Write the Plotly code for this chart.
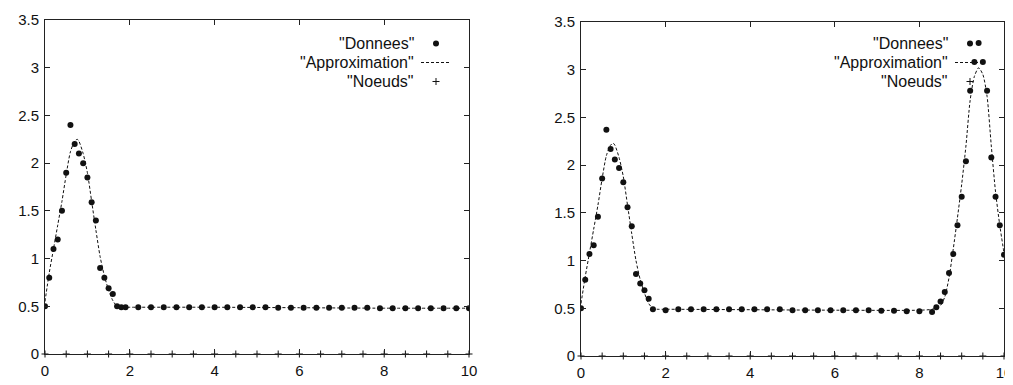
import plotly.graph_objects as go

# ---------------- data ----------------
# Left panel: "Donnees"
left_x = [0.0, 0.1, 0.2, 0.3, 0.4, 0.5, 0.6, 0.7, 0.8, 0.9, 1.0, 1.1, 1.2, 1.3, 1.4, 1.5, 1.6, 1.7, 1.8, 1.9,
          2.2, 2.5, 2.8, 3.1, 3.4, 3.7, 4.0, 4.3, 4.6, 4.9, 5.2, 5.5, 5.8, 6.1, 6.4, 6.7, 7.0, 7.3, 7.6, 7.9,
          8.2, 8.5, 8.8, 9.1, 9.4, 9.7, 10.0]
left_y = [0.50, 0.80, 1.10, 1.20, 1.50, 1.90, 2.40, 2.20, 2.10, 2.00, 1.85, 1.59, 1.40, 0.90, 0.80, 0.69, 0.63, 0.50, 0.49, 0.49,
          0.49, 0.49, 0.49, 0.49, 0.49, 0.49, 0.49, 0.49, 0.49, 0.49, 0.49, 0.485, 0.485, 0.485, 0.485, 0.485, 0.485, 0.485, 0.485, 0.48,
          0.48, 0.48, 0.48, 0.48, 0.48, 0.48, 0.48]
# Left panel: "Approximation"
left_ax = [0.0, 0.1, 0.2, 0.3, 0.4, 0.5, 0.6, 0.7, 0.76, 0.8, 0.9, 1.0, 1.1, 1.2, 1.3, 1.4, 1.5, 1.6, 1.7, 1.8,
           2.0, 4.0, 6.0, 8.0, 10.0]
left_ay = [0.55, 0.85, 1.10, 1.35, 1.60, 1.88, 2.12, 2.23, 2.25, 2.23, 2.10, 1.90, 1.60, 1.30, 1.02, 0.82, 0.67, 0.56, 0.50, 0.49,
           0.49, 0.49, 0.485, 0.48, 0.48]

# Right panel: "Donnees"
right_x = [0.0, 0.1, 0.2, 0.3, 0.4, 0.5, 0.6, 0.7, 0.8, 0.9, 1.0, 1.1, 1.2, 1.3, 1.4, 1.5, 1.6, 1.7,
           2.0, 2.3, 2.6, 2.9, 3.2, 3.5, 3.8, 4.1, 4.4, 4.7, 5.0, 5.3, 5.6, 5.9, 6.2, 6.5, 6.8, 7.1, 7.4, 7.7, 8.0,
           8.3, 8.4, 8.5, 8.6, 8.7, 8.8, 8.9, 9.0, 9.1, 9.2, 9.3, 9.4, 9.5, 9.6, 9.7, 9.8, 9.9, 10.0]
right_y = [0.50, 0.80, 1.07, 1.16, 1.46, 1.86, 2.37, 2.17, 2.06, 1.97, 1.82, 1.56, 1.36, 0.86, 0.76, 0.69, 0.60, 0.49,
           0.48, 0.49, 0.49, 0.49, 0.49, 0.49, 0.49, 0.49, 0.49, 0.49, 0.48, 0.48, 0.48, 0.48, 0.48, 0.48, 0.48, 0.475, 0.475, 0.47, 0.47,
           0.46, 0.51, 0.57, 0.67, 0.87, 1.07, 1.37, 1.67, 2.04, 2.78, 3.08, 3.28, 3.08, 2.78, 2.08, 1.67, 1.37, 1.06]
# Right panel: "Approximation"
right_ax = [0.0, 0.1, 0.2, 0.3, 0.4, 0.5, 0.6, 0.7, 0.76, 0.8, 0.9, 1.0, 1.1, 1.2, 1.3, 1.4, 1.5, 1.6, 1.7, 1.8,
            2.0, 4.0, 6.0, 8.0, 8.3, 8.5, 8.6, 8.7, 8.8, 8.9, 9.0, 9.1, 9.2, 9.3, 9.4, 9.5, 9.6, 9.7, 9.8, 9.9, 10.0]
right_ay = [0.55, 0.83, 1.08, 1.33, 1.58, 1.86, 2.10, 2.21, 2.23, 2.21, 2.08, 1.88, 1.58, 1.28, 1.00, 0.80, 0.66, 0.55, 0.50, 0.49,
            0.49, 0.485, 0.48, 0.48, 0.49, 0.53, 0.62, 0.82, 1.12, 1.45, 1.80, 2.20, 2.68, 2.93, 3.02, 2.95, 2.72, 2.20, 1.72, 1.37, 1.08]

# Knots ("Noeuds"), same for both panels
knots_x = [0.0, 0.5, 1.0, 1.5, 2.0, 2.5, 3.0, 3.5, 4.0, 4.5, 5.0, 5.5, 6.0, 6.5, 7.0, 7.5, 8.0, 8.5, 9.0, 9.5, 10.0]
knots_y = [0.0] * len(knots_x)

legend_labels = ['"Donnees"', '"Approximation"', '"Noeuds"']
x_ticks = [0, 2, 4, 6, 8, 10]
y_ticks = [0, 0.5, 1, 1.5, 2, 2.5, 3, 3.5]
y_tick_text = ["0", "0.5", "1", "1.5", "2", "2.5", "3", "3.5"]

# ---------------- figure ----------------
PAGE_W, PAGE_H = 1013, 385
OFF = 8                      # default body margin of the html page
W, H = PAGE_W - OFF, PAGE_H - OFF
FONT = "Liberation Sans, Arial, Helvetica, sans-serif"
INK = "#111111"

fig = go.Figure()

panels = [
    dict(xd=left_x, yd=left_y, xa=left_ax, ya=left_ay, xaxis="x", yaxis="y", legend="legend"),
    dict(xd=right_x, yd=right_y, xa=right_ax, ya=right_ay, xaxis="x2", yaxis="y2", legend="legend2"),
]

for p in panels:
    fig.add_trace(go.Scatter(
        x=p["xd"], y=p["yd"], mode="markers", name=" ",
        marker=dict(symbol="circle", size=6, color=INK),
        xaxis=p["xaxis"], yaxis=p["yaxis"], legend=p["legend"], hovertemplate='"Donnees" %{x}, %{y}<extra></extra>'))
    fig.add_trace(go.Scatter(
        x=p["xa"], y=p["ya"], mode="lines", name="  ",
        line=dict(color=INK, width=1, dash="3px,2px", shape="spline", smoothing=0.7),
        xaxis=p["xaxis"], yaxis=p["yaxis"], legend=p["legend"], hovertemplate='"Approximation" %{x}, %{y}<extra></extra>'))
    fig.add_trace(go.Scatter(
        x=knots_x, y=knots_y, mode="markers", name="   ", cliponaxis=False,
        marker=dict(symbol="cross-thin", size=5, color=INK, line=dict(width=1, color=INK)),
        xaxis=p["xaxis"], yaxis=p["yaxis"], legend=p["legend"], hovertemplate='"Noeuds" %{x}<extra></extra>'))

# Plot area geometry (page pixels)
L_left, L_right, L_top, L_bot = 45, 469, 20, 354
R_left, R_right, R_top, R_bot = 581, 1004, 22, 356

def px2x(px):
    return (px - OFF) / W

def py2y(py):
    return 1 - (py - OFF) / H

axis_common = dict(
    showgrid=False, zeroline=False, showline=True, linecolor="#222222", linewidth=1,
    ticks="inside", ticklen=5, tickwidth=1, tickcolor="#222222", mirror="ticks",
    automargin=False,
    tickfont=dict(family=FONT, size=15, color=INK),
)

LEG_FONT = 12
fig.update_layout(
    width=W, height=H,
    margin=dict(l=0, r=0, t=0, b=0, pad=0),
    paper_bgcolor="white", plot_bgcolor="white",
    font=dict(family=FONT, size=15, color=INK),
    xaxis=dict(domain=[px2x(L_left), px2x(L_right)], range=[0, 10], tickvals=x_ticks, anchor="y",
               ticklabelstandoff=3, **axis_common),
    yaxis=dict(domain=[py2y(L_bot), py2y(L_top)], range=[0, 3.5], tickvals=y_ticks, ticktext=y_tick_text, anchor="x",
               ticklabelstandoff=2, **axis_common),
    xaxis2=dict(domain=[px2x(R_left), px2x(R_right)], range=[0, 10], tickvals=x_ticks, anchor="y2",
                ticklabelstandoff=3, **axis_common),
    yaxis2=dict(domain=[py2y(R_bot), py2y(R_top)], range=[0, 3.5], tickvals=y_ticks, ticktext=y_tick_text, anchor="x2",
                ticklabelstandoff=2, **axis_common),
    legend=dict(x=px2x(434 - 18), y=py2y(29), xanchor="left", yanchor="top",
                bgcolor="rgba(0,0,0,0)", font=dict(size=LEG_FONT), itemwidth=30, tracegroupgap=0),
    legend2=dict(x=px2x(968 - 18), y=py2y(29), xanchor="left", yanchor="top",
                 bgcolor="rgba(0,0,0,0)", font=dict(size=LEG_FONT), itemwidth=30, tracegroupgap=0),
    showlegend=True,
)

# Legend labels, right-aligned to the left of the symbols (gnuplot style)
row_top, row_gap = 43, 19
for right_edge in [416, 950]:
    for i, lab in enumerate(legend_labels):
        fig.add_annotation(
            text=lab, xref="paper", yref="paper",
            x=px2x(right_edge), y=py2y(row_top + i * row_gap),
            xanchor="right", yanchor="middle", showarrow=False,
            font=dict(family=FONT, size=16, color=INK))

fig.write_html("out.html")
